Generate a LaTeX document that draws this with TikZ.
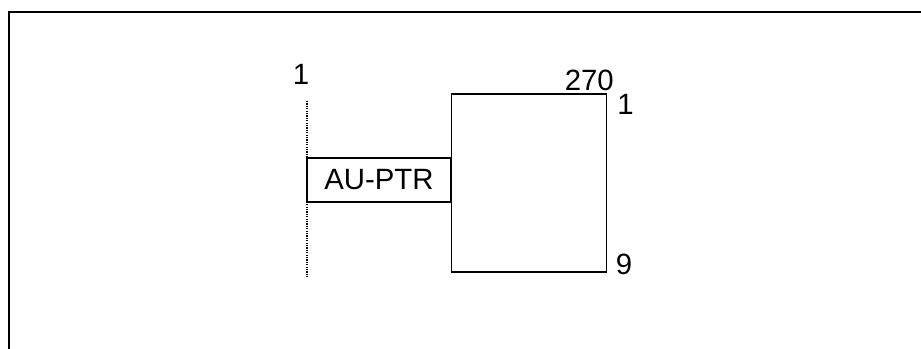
\documentclass[tikz,border=0pt]{standalone}
\usepackage{fontspec}
\setmainfont{Liberation Sans}
\usetikzlibrary{positioning}

\begin{document}
\begin{tikzpicture}[x=0.75pt, y=-0.75pt,
        every node/.style={font=\fontsize{22}{26}\selectfont},
        lbl/.style={inner sep=0pt},
        framebox/.style={draw, line width=0.8pt, inner sep=0pt}]
            \useasboundingbox (0,0) rectangle (921,349);

            % Outer frame
            \draw[line width=1.5pt] (9,360) -- (9,12.5) -- (930,12.5);

            % Define nodes
            \node[framebox, minimum width=116.25pt, minimum height=133.5pt] (au) at (529,183) {};
            \node[framebox, minimum width=108pt, minimum height=33pt] (ptr) at (379,180) {AU-PTR};
            \node[lbl, anchor=base] (one) at (301,85) {1};
            \node[lbl, anchor=base east] (cols) at (614,91) {270};
            \node[lbl, anchor=base west] (rowa) at (617,115) {1};
            \node[lbl, anchor=base west] (rowb) at (615.5,274) {9};

            % Draw dotted line
            \coordinate (dtop) at (307,101);
            \coordinate (dbot) at (307,277);
            \draw[line width=1pt, dash pattern=on 0.9pt off 0.9pt] (dtop) -- (dbot);

        \end{tikzpicture}
\end{document}
